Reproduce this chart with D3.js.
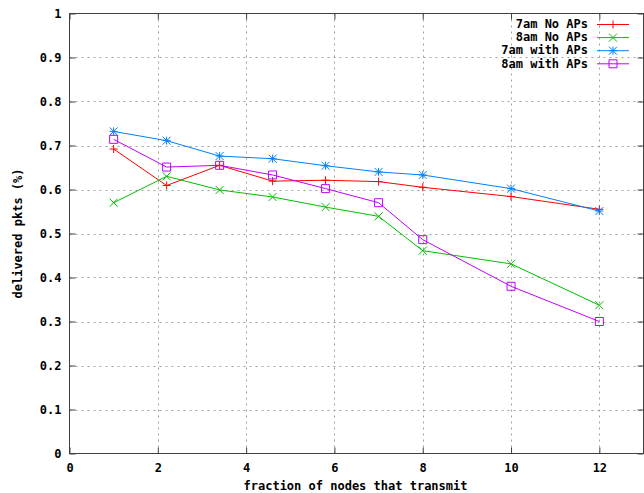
<!DOCTYPE html>
<html>
<head>
<meta charset="utf-8">
<script src="https://cdn.jsdelivr.net/npm/d3@7"></script>
<style>
  body { margin: 0; background: white; }
  text { font-family: "DejaVu Sans Mono", "Liberation Mono", monospace; font-weight: bold; font-size: 12px; fill: #000; }
</style>
</head>
<body>
<div id="chart"></div>
<script>
// data
const xValues = [1, 2.2, 3.4, 4.6, 5.8, 7, 8, 10, 12];
const am7NoAPs = [0.692, 0.609, 0.655, 0.619, 0.621, 0.618, 0.605, 0.584, 0.555];
const am8NoAPs = [0.570, 0.630, 0.599, 0.583, 0.560, 0.539, 0.461, 0.431, 0.337];
const am7WithAPs = [0.732, 0.711, 0.676, 0.670, 0.654, 0.640, 0.633, 0.602, 0.551];
const am8WithAPs = [0.714, 0.651, 0.655, 0.633, 0.602, 0.570, 0.486, 0.380, 0.300];
const seriesNames = ["7am No APs", "8am No APs", "7am with APs", "8am with APs"];
const seriesColors = ["#ff0000", "#00c000", "#0080ff", "#c000ff"];
const seriesMarkers = ["plus", "cross", "star", "square"];
const xTicks = [0, 2, 4, 6, 8, 10, 12];
const yTicks = [0, 0.1, 0.2, 0.3, 0.4, 0.5, 0.6, 0.7, 0.8, 0.9, 1];

const series = [am7NoAPs, am8NoAPs, am7WithAPs, am8WithAPs].map((vals, i) => ({
    name: seriesNames[i],
    color: seriesColors[i],
    marker: seriesMarkers[i],
    points: vals.map((v, j) => ({x: xValues[j], y: v}))
}));

const width = 644, height = 493;
const plot = {left: 69.5, right: 643.5, top: 13.5, bottom: 453.5};

const svg = d3.select("#chart")
    .append("svg")
        .attr("width", width)
        .attr("height", height);

const xScale = d3.scaleLinear().domain([0, 13]).range([plot.left, plot.right]);
const yScale = d3.scaleLinear().domain([0, 1]).range([plot.bottom, plot.top]);

//dotted grid on interior ticks
const grid = svg.append("g")
    .attr("stroke", "#a0a0a0")
    .attr("stroke-width", 1)
    .attr("stroke-dasharray", "2,4");

grid.selectAll("line.gx")
    .data(xTicks.filter(d => d > 0))
    .join("line")
        .attr("class", "gx")
        .attr("x1", d => Math.round(xScale(d)) + 0.5)
        .attr("x2", d => Math.round(xScale(d)) + 0.5)
        .attr("y1", plot.top)
        .attr("y2", plot.bottom);

grid.selectAll("line.gy")
    .data(yTicks.filter(d => d > 0 && d < 1))
    .join("line")
        .attr("class", "gy")
        .attr("x1", plot.left)
        .attr("x2", plot.right)
        .attr("y1", d => Math.round(yScale(d)) + 0.5)
        .attr("y2", d => Math.round(yScale(d)) + 0.5);

// axes, ticks point inward (gnuplot style)
const xAxis = svg.append("g")
    .attr("transform", `translate(0, ${plot.bottom})`)
    .call(d3.axisBottom(xScale).tickValues(xTicks).tickSize(-6).tickPadding(10).tickFormat(d3.format("d")));

const xAxisTop = svg.append("g")
    .attr("transform", `translate(0, ${plot.top})`)
    .call(d3.axisTop(xScale).tickValues(xTicks).tickSize(-6).tickFormat(""));

const yAxis = svg.append("g")
    .attr("transform", `translate(${plot.left}, 0)`)
    .call(d3.axisLeft(yScale).tickValues(yTicks).tickSize(-6).tickPadding(8).tickFormat(d => d === 0 || d === 1 ? d : d3.format(".1f")(d)));

const yAxisRight = svg.append("g")
    .attr("transform", `translate(${plot.right}, 0)`)
    .call(d3.axisRight(yScale).tickValues(yTicks).tickSize(-6).tickFormat(""));

[xAxis, xAxisTop, yAxis, yAxisRight].forEach(g => {
    g.select(".domain").remove();
    g.selectAll("line").attr("stroke", "#404040");
    g.selectAll("text").attr("font-family", null).attr("font-size", null).style("fill", "#000");
});

// border
svg.append("rect")
    .attr("x", plot.left)
    .attr("y", plot.top)
    .attr("width", plot.right - plot.left)
    .attr("height", plot.bottom - plot.top)
    .attr("fill", "none")
    .attr("stroke", "#404040")
    .attr("stroke-width", 1);

// axis labels
svg.append("text")
    .attr("x", (plot.left + plot.right) / 2 - 1)
    .attr("y", 490)
    .attr("text-anchor", "middle")
    .text("fraction of nodes that transmit");

svg.append("text")
    .attr("transform", `translate(22, ${(plot.top + plot.bottom) / 2}) rotate(-90)`)
    .attr("text-anchor", "middle")
    .text("delivered pkts (%)");

// marker drawing
function drawMarker(g, type, color, cx, cy) {
    const s = 4;
    const p = g.append("path")
        .attr("fill", "none")
        .attr("stroke", color)
        .attr("stroke-width", 1);
    if (type === "plus") {
        p.attr("d", `M${cx - s},${cy}H${cx + s}M${cx},${cy - s}V${cy + s}`);
    } else if (type === "cross") {
        p.attr("d", `M${cx - s},${cy - s}L${cx + s},${cy + s}M${cx - s},${cy + s}L${cx + s},${cy - s}`);
    } else if (type === "star") {
        p.attr("d", `M${cx - s},${cy}H${cx + s}M${cx},${cy - s}V${cy + s}M${cx - s},${cy - s}L${cx + s},${cy + s}M${cx - s},${cy + s}L${cx + s},${cy - s}`);
    } else {
        p.attr("d", `M${cx - s},${cy - s}H${cx + s}V${cy + s}H${cx - s}Z`);
    }
}

const line = d3.line()
    .x(d => xScale(d.x))
    .y(d => yScale(d.y));

// series
series.forEach(s => {
    const g = svg.append("g");
    g.append("path")
        .datum(s.points)
        .attr("d", line)
        .attr("fill", "none")
        .attr("stroke", s.color)
        .attr("stroke-width", 1);
    s.points.forEach(d => drawMarker(g, s.marker, s.color, xScale(d.x), yScale(d.y)));
});

// legend
const legend = svg.append("g");
series.forEach((s, i) => {
    const y = 24 + i * 13.1;
    legend.append("text")
        .attr("x", 588)
        .attr("y", y)
        .attr("dy", "0.35em")
        .attr("text-anchor", "end")
        .text(s.name);
    legend.append("line")
        .attr("x1", 597)
        .attr("x2", 629)
        .attr("y1", y + 0.5)
        .attr("y2", y + 0.5)
        .attr("stroke", s.color);
    drawMarker(legend, s.marker, s.color, 613, y + 0.5);
});
</script>
</body>
</html>
